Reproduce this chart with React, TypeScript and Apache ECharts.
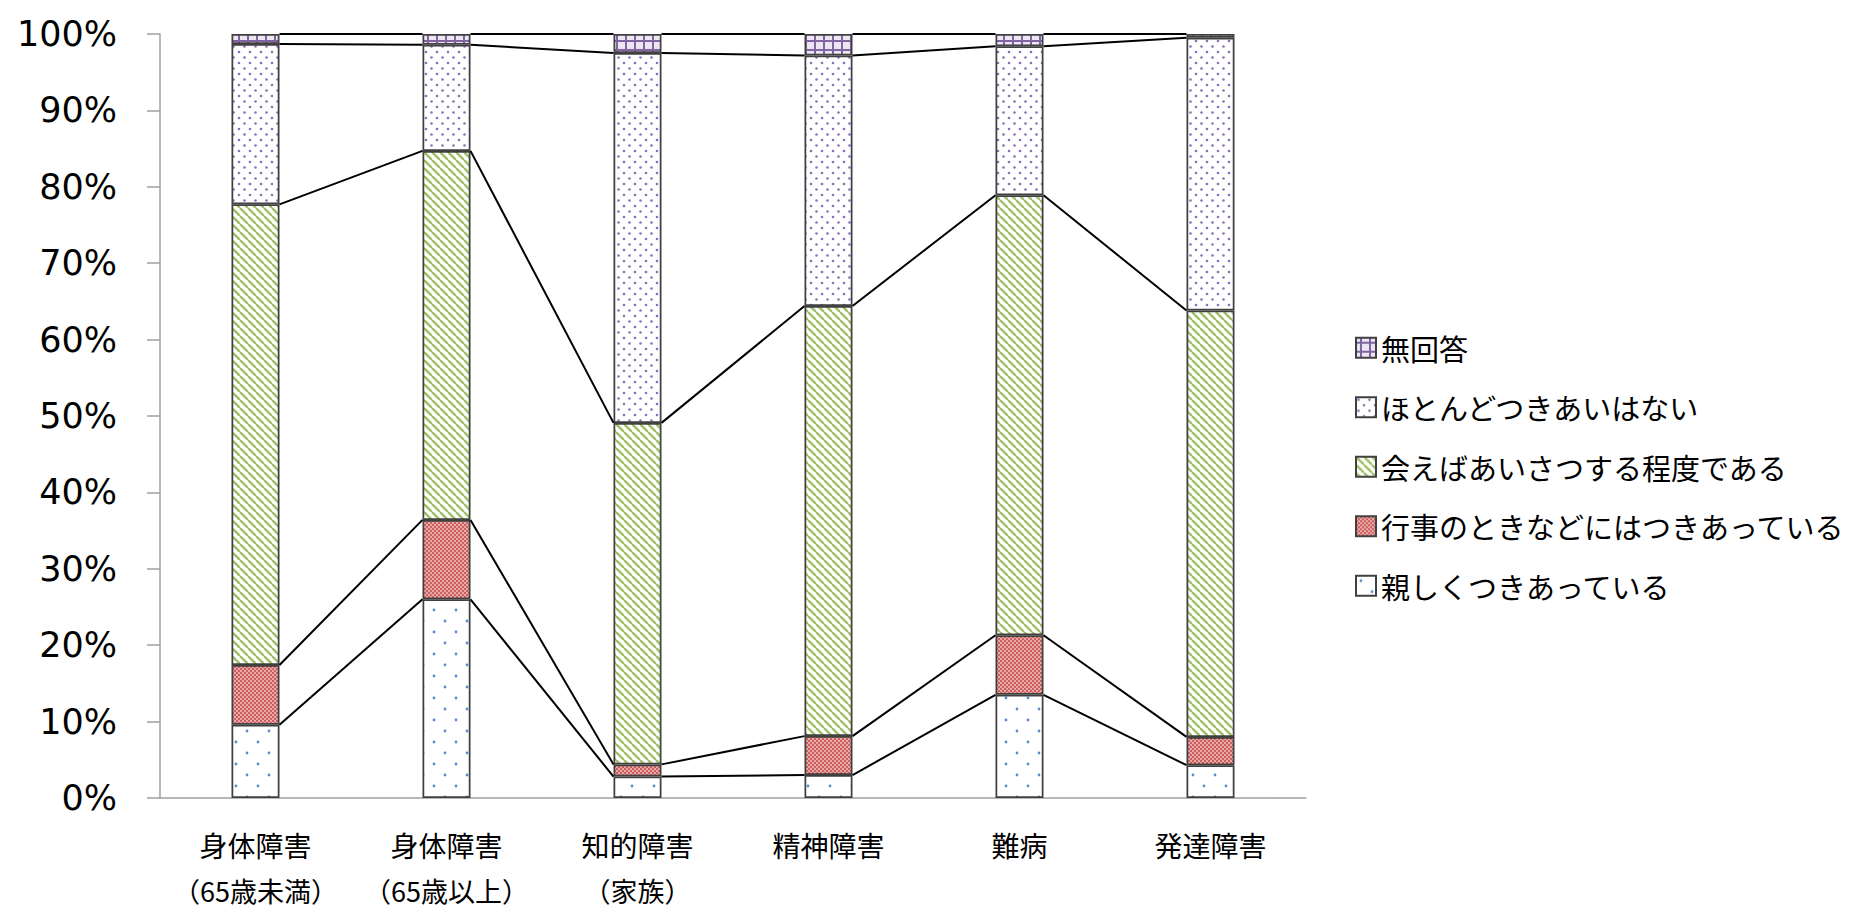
import React, { useEffect, useRef } from "react";
import * as echarts from "echarts";

const categories = [
  "身体障害\n（65歳未満）",
  "身体障害\n（65歳以上）",
  "知的障害\n（家族）",
  "精神障害",
  "難病",
  "発達障害",
];
const seriesNames = [
  "親しくつきあっている",
  "行事のときなどにはつきあっている",
  "会えばあいさつする程度である",
  "ほとんどつきあいはない",
  "無回答",
];
const closeVals = [9.6, 26.0, 2.8, 3.0, 13.5, 4.3];
const eventVals = [7.8, 10.4, 1.6, 5.1, 7.8, 3.7];
const greetVals = [60.3, 48.3, 44.7, 56.3, 57.6, 55.8];
const hardlyVals = [21.0, 13.9, 48.4, 32.8, 19.5, 35.7];
const noAnswerVals = [1.3, 1.4, 2.5, 2.8, 1.6, 0.5];
const yTicks = [0, 10, 20, 30, 40, 50, 60, 70, 80, 90, 100];

function tile(w: number, h: number, draw: (ctx: CanvasRenderingContext2D) => void) {
  const c = document.createElement("canvas");
  c.width = w;
  c.height = h;
  const ctx = c.getContext("2d")!;
  draw(ctx);
  return { image: c, repeat: "repeat", imageWidth: w, imageHeight: h } as any;
}

function makePatterns() {
  const dots = (w: number, h: number, pts: number[][], r: number, col: string, bg: string) =>
    tile(w, h, (ctx) => {
      ctx.fillStyle = bg;
      ctx.fillRect(0, 0, w, h);
      ctx.fillStyle = col;
      for (const [x, y] of pts) {
        ctx.beginPath();
        ctx.arc(x, y, r, 0, Math.PI * 2);
        ctx.fill();
      }
    });
  const blue = dots(22, 22, [[5, 5], [16, 16]], 1.4, "#5b8bd0", "#ffffff");
  const purpleDots = dots(11, 11, [[2.5, 2.5], [8, 8]], 1.3, "#8a70b4", "#ffffff");
  const red = tile(4, 4, (ctx) => {
    ctx.fillStyle = "#ffffff";
    ctx.fillRect(0, 0, 4, 4);
    ctx.fillStyle = "#cc5f5d";
    ctx.fillRect(0, 0, 2, 2);
    ctx.fillRect(2, 2, 2, 2);
    ctx.fillStyle = "#e7aaa8";
    ctx.fillRect(2, 0, 2, 2);
    ctx.fillRect(0, 2, 2, 2);
  });
  const green = tile(8, 8, (ctx) => {
    ctx.fillStyle = "#ffffff";
    ctx.fillRect(0, 0, 8, 8);
    ctx.strokeStyle = "#9fc165";
    ctx.lineWidth = 2.4;
    for (const o of [-8, 0, 8]) {
      ctx.beginPath();
      ctx.moveTo(o, 0);
      ctx.lineTo(o + 8, 8);
      ctx.stroke();
    }
  });
  const grid = tile(9, 9, (ctx) => {
    ctx.fillStyle = "#ece6f3";
    ctx.fillRect(0, 0, 9, 9);
    ctx.fillStyle = "#8064a2";
    ctx.fillRect(4, 0, 2, 9);
    ctx.fillRect(0, 4, 9, 2);
  });
  return [blue, red, green, purpleDots, grid];
}

export default function App() {
  const ref = useRef<HTMLDivElement>(null);
  useEffect(() => {
    if (!ref.current) return;
    const chart = echarts.init(ref.current, undefined, { renderer: "svg" });
    const patterns = makePatterns();
    const valueSets = [closeVals, eventVals, greetVals, hardlyVals, noAnswerVals];

    const cum: number[][] = [];
    valueSets.forEach((vals, k) => {
      cum.push(vals.map((v, i) => (k === 0 ? 0 : cum[k - 1][i]) + v));
    });
    const lineData: number[][] = [];
    cum.forEach((level) => {
      for (let i = 0; i < categories.length - 1; i++) {
        lineData.push([i, level[i], level[i + 1]]);
      }
    });

    const barSeries = valueSets.map((vals, k) => ({
      name: seriesNames[k],
      type: "bar",
      stack: "total",
      barWidth: 48,
      data: vals,
      itemStyle: {
        color: patterns[k],
        borderColor: "#404040",
        borderWidth: 1.75,
      },
      emphasis: { disabled: true },
    }));

    const fontLatin = '"DejaVu Sans", "Noto Sans CJK JP", sans-serif';
    const fontJP = '"Noto Sans CJK JP", sans-serif';

    chart.setOption({
      animation: false,
      backgroundColor: "#ffffff",
      grid: {
        left: 160,
        top: 34,
        width: 1146,
        height: 764,
        containLabel: false,
        outerBoundsMode: "none",
      },
      legend: {
        orient: "vertical",
        left: 1350,
        top: 328,
        itemWidth: 20,
        itemHeight: 20,
        itemGap: 30,
        data: [...seriesNames].reverse(),
        icon: "rect",
        textStyle: {
          fontSize: 29,
          lineHeight: 29.5,
          color: "#000000",
          fontFamily: fontJP,
        },
        selectedMode: false,
      },
      xAxis: {
        type: "category",
        data: categories,
        axisTick: { show: false },
        axisLine: { lineStyle: { color: "#a0a0a0", width: 1.5 } },
        axisLabel: {
          interval: 0,
          margin: 15,
          formatter: (v: string) =>
            v
              .split("\n")
              .map((s, i) => `{${i === 0 ? "a" : "b"}|${s}}`)
              .join("\n"),
          rich: {
            a: { fontSize: 28, lineHeight: 64, color: "#000000", fontFamily: fontJP },
            b: { fontSize: 27, lineHeight: 27, color: "#000000", fontFamily: fontJP },
          },
        },
      },
      yAxis: {
        type: "value",
        min: yTicks[0],
        max: yTicks[yTicks.length - 1],
        interval: 10,
        splitLine: { show: false },
        axisLine: { show: true, lineStyle: { color: "#a0a0a0", width: 1.5 } },
        axisTick: { show: true, length: 13, lineStyle: { color: "#a0a0a0", width: 1.5 } },
        axisLabel: {
          formatter: "{value}%",
          fontSize: 35,
          margin: 43,
          color: "#000000",
          fontFamily: fontLatin,
        },
      },
      series: [
        ...barSeries,
        {
          type: "custom",
          name: "series-lines",
          data: lineData,
          encode: { x: 0, y: 1 },
          silent: true,
          z: 5,
          renderItem: (params: any, api: any) => {
            const i = api.value(0);
            const p1 = api.coord([i, api.value(1)]);
            const p2 = api.coord([i + 1, api.value(2)]);
            const hb = 24;
            return {
              type: "line",
              shape: { x1: p1[0] + hb, y1: p1[1], x2: p2[0] - hb, y2: p2[1] },
              style: { stroke: "#000000", lineWidth: 2 },
            };
          },
        },
      ],
    });
    return () => chart.dispose();
  }, []);
  return (
    <div
      ref={ref}
      style={{ position: "absolute", left: 0, top: 0, width: 1850, height: 911 }}
    />
  );
}
